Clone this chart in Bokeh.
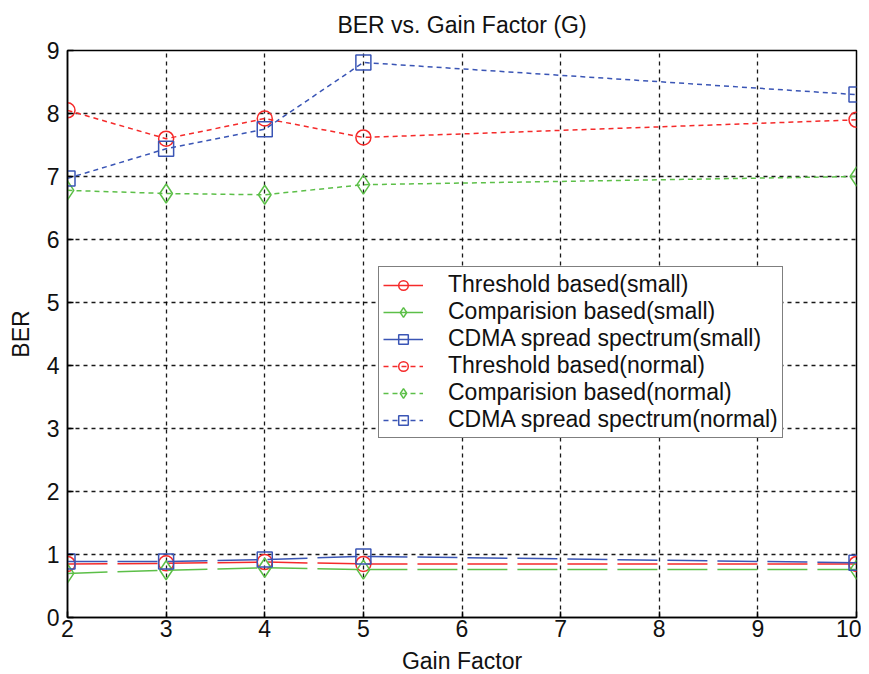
from bokeh.plotting import figure
from bokeh.models import Range1d, FixedTicker, Legend, LegendItem, Title
from bokeh.embed import file_html
from bokeh.resources import INLINE

gain = [2, 3, 4, 5, 10]
thr_small = [0.85, 0.86, 0.88, 0.85, 0.85]
cmp_small = [0.70, 0.75, 0.79, 0.76, 0.76]
cdma_small = [0.89, 0.89, 0.92, 0.97, 0.87]
thr_normal = [8.05, 7.60, 7.92, 7.62, 7.90]
cmp_normal = [6.78, 6.73, 6.71, 6.87, 7.00]
cdma_normal = [6.97, 7.44, 7.75, 8.81, 8.30]
labels = ["Threshold based(small)", "Comparision based(small)", "CDMA spread spectrum(small)",
          "Threshold based(normal)", "Comparision based(normal)", "CDMA spread spectrum(normal)"]
x_ticks = [2, 3, 4, 5, 6, 7, 8, 9, 10]
y_ticks = [0, 1, 2, 3, 4, 5, 6, 7, 8, 9]
title_text = "BER vs. Gain Factor (G)"

RED = "#f52a2a"
GREEN = "#5cbf48"
BLUE = "#3a55b5"
FONT = "Liberation Sans"
FS = "23px"

p = figure(width=861, height=674, output_backend="svg", toolbar_location=None,
           x_range=Range1d(2, 10), y_range=Range1d(0, 9),
           frame_width=789, frame_height=567,
           min_border_left=67, min_border_right=5, min_border_top=50, min_border_bottom=57)

# thin empty panel between the frame and the title lifts the title a few pixels
spacer = Title(text=" ", text_font_size="6px", standoff=0)
p.add_layout(spacer, "above")
main_title = Title(text=title_text, align="center", text_font=FONT, text_font_size=FS,
                   text_font_style="normal", text_color="#111111")
p.add_layout(main_title, "above")

p.outline_line_color = "black"
p.outline_line_width = 1.5

for ax in p.xaxis + p.yaxis:
    ax.major_tick_in = 6
    ax.major_tick_out = 0
    ax.minor_tick_in = 0
    ax.minor_tick_out = 0
    ax.major_label_text_font = FONT
    ax.major_label_text_font_size = FS
    ax.major_label_text_color = "#111111"
    ax.axis_label_text_font = FONT
    ax.axis_label_text_font_size = FS
    ax.axis_label_text_font_style = "normal"
    ax.axis_label_text_color = "#111111"
    ax.axis_line_color = "black"
    ax.axis_line_width = 1.5
    ax.major_tick_line_width = 1.5
p.xaxis.ticker = FixedTicker(ticks=x_ticks)
p.yaxis.ticker = FixedTicker(ticks=y_ticks)
p.xaxis.axis_label = "Gain Factor"
p.yaxis.axis_label = "BER"
p.xaxis.major_label_standoff = 2
p.yaxis.major_label_standoff = 8
p.xaxis.axis_label_standoff = 8
p.yaxis.axis_label_standoff = 10

p.grid.grid_line_color = "black"
p.grid.grid_line_dash = "4 4"
p.grid.grid_line_width = 1.3
p.grid.grid_line_alpha = 0.9
p.xgrid.ticker = FixedTicker(ticks=x_ticks)
p.ygrid.ticker = FixedTicker(ticks=y_ticks)

SMALL_DASH = "40 10"
NORMAL_DASH = "5 4"
series = [
    (thr_small, RED, "circle", SMALL_DASH),
    (cmp_small, GREEN, "diamond", SMALL_DASH),
    (cdma_small, BLUE, "square", SMALL_DASH),
    (thr_normal, RED, "circle", NORMAL_DASH),
    (cmp_normal, GREEN, "diamond", NORMAL_DASH),
    (cdma_normal, BLUE, "square", NORMAL_DASH),
]
items = []
for (ys, col, mk, dash), lab in zip(series, labels):
    ln = p.line(gain, ys, line_color=col, line_width=1.5, line_dash=dash)
    sz = 15 if mk != "diamond" else 19
    sc = p.scatter(gain, ys, marker=mk, size=sz, line_color=col, fill_alpha=0, line_width=1.5)
    items.append(LegendItem(label=lab, renderers=[ln, sc]))

legend = Legend(items=items, location=(311, 179))
legend.label_text_font = FONT
legend.label_text_font_size = FS
legend.label_text_color = "#111111"
legend.border_line_color = "black"
legend.border_line_width = 1.5
legend.glyph_width = 40
legend.glyph_height = 24
legend.label_height = 24
legend.spacing = 0
legend.padding = 4
legend.margin = 0
legend.label_standoff = 25
legend.background_fill_alpha = 1
p.add_layout(legend, "center")

open("out.html", "w").write(file_html(p, INLINE))
